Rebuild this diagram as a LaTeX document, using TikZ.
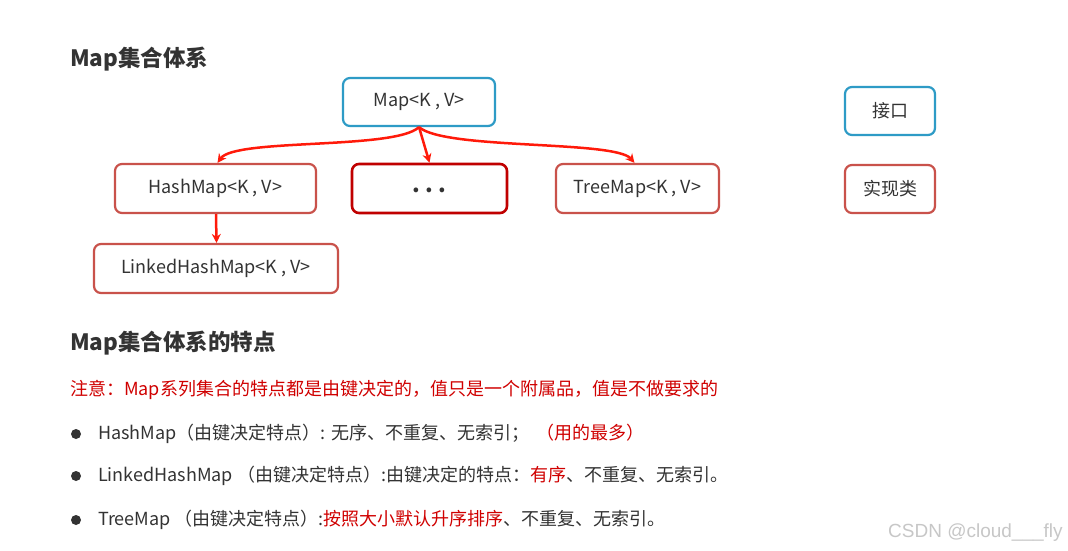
\documentclass[tikz,border=0pt]{standalone}
\usepackage{fontspec}
\setmainfont{Noto Sans CJK SC}
\newfontfamily\wmfont{Liberation Sans}
\usetikzlibrary{arrows.meta}
\definecolor{ifblue}{HTML}{2E9BC6}
\definecolor{implred}{HTML}{C9524B}
\definecolor{darkred}{HTML}{C00000}
\definecolor{txtred}{HTML}{D00000}
\definecolor{arrred}{HTML}{FF1A0A}
\definecolor{txtgray}{HTML}{333333}
\begin{document}
\begin{tikzpicture}[x=1pt,y=-1pt,
  box/.style={draw, rounded corners=7pt, line width=2.2pt, fill=white, inner sep=0pt, font=\fontsize{18}{20}\selectfont, text=txtgray},
  ifbox/.style={box, draw=ifblue},
  imbox/.style={box, draw=implred},
  dbox/.style={box, draw=darkred, line width=2.6pt},
  arr/.style={draw=arrred, line width=2.5pt, -{Stealth[length=9pt,width=9pt]}},
  title/.style={anchor=west, inner sep=0pt, font=\fontsize{22.5}{24}\bfseries\selectfont, text=txtgray},
  line/.style={anchor=west, inner sep=0pt, font=\fontsize{18}{20}\selectfont, text=txtgray},
  dot/.style={circle, fill=txtgray, inner sep=0pt, minimum size=10pt}
]
\useasboundingbox[fill=white] (0,0) rectangle (1068,550);

\node[title] (t1) at (70,59) {Map集合体系};

\node[ifbox, minimum width=152pt, minimum height=48pt] (map) at (419,102) {Map<K , V>};
\node[imbox, minimum width=201pt, minimum height=49pt] (hm) at (215.5,188.5) {HashMap<K , V>};
\node[dbox, minimum width=155pt, minimum height=49pt, text depth=0pt, font=\fontsize{22}{24}\bfseries\selectfont] (etc) at (429.5,188.5) {\raisebox{-3pt}{.\hspace{5pt}.\hspace{5pt}.}};
\node[imbox, minimum width=163pt, minimum height=49pt] (tm) at (637.5,188.5) {TreeMap<K , V>};
\node[imbox, minimum width=244pt, minimum height=49pt] (lhm) at (216,268.5) {LinkedHashMap<K , V>};

\node[ifbox, minimum width=90pt, minimum height=48pt] (if) at (890,111) {接口};
\node[imbox, minimum width=90pt, minimum height=48pt] (im) at (890,189) {实现类};

\draw[arr] (map.south) .. controls (395,150) and (235,138) .. ([xshift=2pt]hm.north);
\draw[arr] (map.south) -- ([xshift=0pt]etc.north);
\draw[arr] (map.south) .. controls (445,150) and (615,140) .. ([xshift=-3pt]tm.north);
\draw[arr] ([xshift=0.5pt]hm.south) -- ([xshift=0.5pt]lhm.north);

\node[title] (t2) at (70,343) {Map集合体系的特点};

\node[line, text=txtred] (note) at (70,390) {注意：Map系列集合的特点都是由键决定的，值只是一个附属品，值是不做要求的};

\node[dot] (d1) at (76,434) {};
\node[dot] (d2) at (76,476) {};
\node[dot] (d3) at (76,520) {};

\node[line] (l1) at (98,434) {HashMap（由键决定特点）: 无序、不重复、无索引；\hspace{0.4em}\textcolor{txtred}{（用的最多）}};
\node[line] (l2) at (98,476) {LinkedHashMap （由键决定特点）:由键决定的特点：\textcolor{txtred}{有序}、不重复、无索引。};
\node[line] (l3) at (98,520) {TreeMap （由键决定特点）:\textcolor{txtred}{按照大小默认升序排序}、不重复、无索引。};

\node[anchor=west, inner sep=0pt, font=\wmfont\fontsize{19}{21}\selectfont, text=black!22] (wm) at (888,533) {CSDN @cloud\_\_\_fly};
\end{tikzpicture}
\end{document}
